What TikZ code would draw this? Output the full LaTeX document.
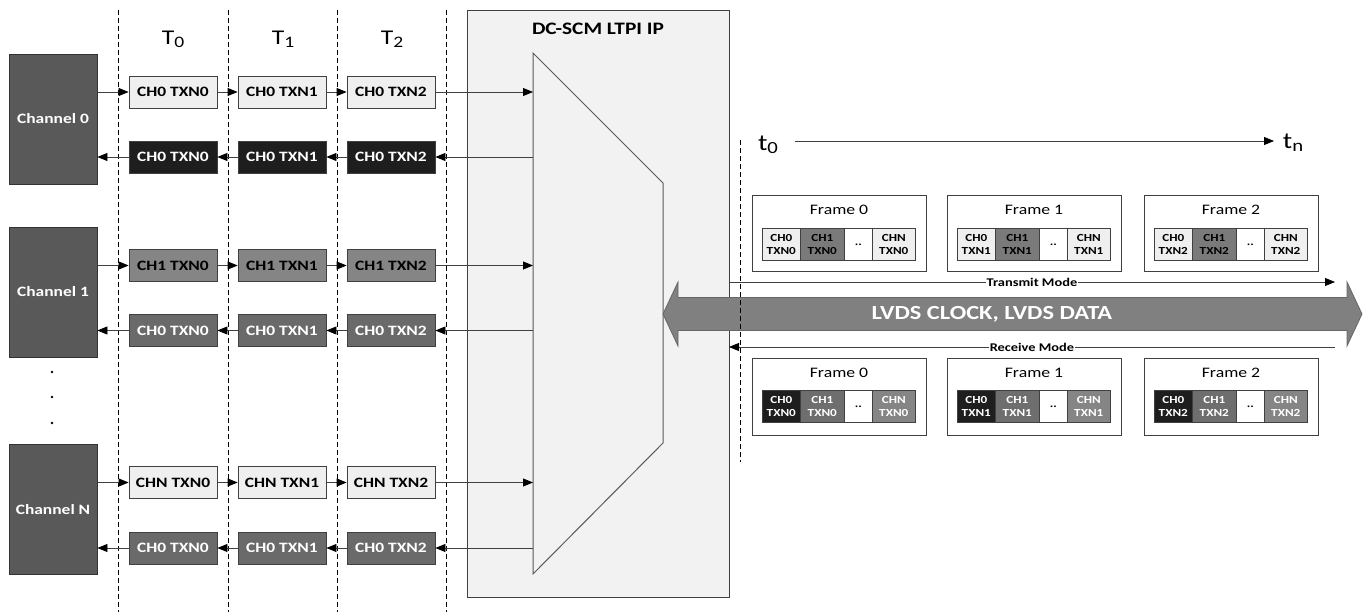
\documentclass[tikz,border=0pt]{standalone}
\usepackage{fontspec}
\setmainfont{Carlito}[FakeStretch=1.22]
\usetikzlibrary{arrows.meta}

\definecolor{lightfill}{HTML}{EFEFEF}
\definecolor{midfill}{HTML}{858585}
\definecolor{retfill}{HTML}{6A6A6A}
\definecolor{darkfill}{HTML}{1E1E1E}
\definecolor{chanfill}{HTML}{595959}
\definecolor{ipfill}{HTML}{F2F2F2}
\definecolor{edgecol}{HTML}{404040}
\definecolor{busfill}{HTML}{808080}
\definecolor{cellmid}{HTML}{7A7A7A}
\definecolor{cellret}{HTML}{6E6E6E}
\definecolor{cellchn}{HTML}{858585}

\newcommand\fsz[1]{\fontsize{#1}{#1}\selectfont}
\newcommand\lowidx[3]{\raisebox{-#2pt}{\fontsize{#1}{#1}\selectfont #3}}

\begin{document}
\begin{tikzpicture}[x=1pt,y=-1pt,
  txbox/.style={draw=edgecol, line width=0.8pt, minimum width=88pt, minimum height=32pt,
    inner sep=0pt, font=\fsz{14.3}\bfseries},
  lightbox/.style={txbox, fill=lightfill, text=black},
  midbox/.style={txbox, fill=midfill, text=black},
  retbox/.style={txbox, fill=retfill, text=white},
  darkbox/.style={txbox, fill=darkfill, text=white},
  chanbox/.style={draw=edgecol!80!black, line width=0.8pt, fill=chanfill, text=white,
    minimum width=88pt, minimum height=130pt, inner sep=0pt, font=\fsz{14.3}\bfseries},
  ipbox/.style={draw=edgecol, line width=0.8pt, fill=ipfill, inner sep=0pt},
  timeline/.style={draw=black, line width=0.7pt, dash pattern=on 5pt off 3pt},
  arrow/.style={draw=edgecol, line width=0.8pt, -{Triangle[length=10pt,width=8pt,color=black]}},
  muxline/.style={draw=chanfill, line width=1pt, fill=ipfill},
  framebox/.style={draw=edgecol, line width=0.8pt, fill=white, anchor=north west,
    minimum width=174pt, minimum height=76pt, inner sep=0pt},
  cell/.style={draw=edgecol, line width=0.6pt, anchor=north west, minimum height=32pt,
    inner sep=0pt, align=center, font=\fontsize{10.8}{13}\selectfont\bfseries},
  modelabel/.style={fill=white, inner sep=1pt, font=\fsz{11.8}\bfseries},
  steplabel/.style={font=\fsz{21}},
]
\useasboundingbox (0,0) rectangle (1366,612);

% ---- LTPI IP block with the multiplexer ----
\node[ipbox, anchor=north west, minimum width=262pt, minimum height=587pt] (ip) at (467,10) {};
\node[font=\fsz{17.5}\bfseries] (iptitle) at (598,29) {DC-SCM LTPI IP};
\draw[muxline] (533,53) -- (663,183) -- (663,443) -- (533,574) -- cycle;

% ---- time slot separators ----
\foreach \x in {118,228,337,446}
  \draw[timeline] (\x,10) -- (\x,612);

\node[steplabel] (T0) at (173,39) {T\lowidx{16}{3}{0}};
\node[steplabel] (T1) at (283,39) {T\lowidx{16}{3}{1}};
\node[steplabel] (T2) at (392,39) {T\lowidx{16}{3}{2}};

% ---- channels ----
\node[chanbox] (ch0) at (53,119) {Channel 0};
\node[chanbox] (ch1) at (53,292) {Channel 1};
\node[chanbox] (chN) at (53,509.5) {Channel N};
\foreach \y in {372,397,423}
  \fill (52,\y) circle (1.3pt);

% ---- transactions per time slot ----
\node[lightbox] (a0) at (173,92) {CH0 TXN0};
\node[lightbox] (a1) at (282,92) {CH0 TXN1};
\node[lightbox] (a2) at (391,92) {CH0 TXN2};
\node[darkbox] (b0) at (173,157) {CH0 TXN0};
\node[darkbox] (b1) at (282,157) {CH0 TXN1};
\node[darkbox] (b2) at (391,157) {CH0 TXN2};
\node[midbox] (c0) at (173,265.5) {CH1 TXN0};
\node[midbox] (c1) at (282,265.5) {CH1 TXN1};
\node[midbox] (c2) at (391,265.5) {CH1 TXN2};
\node[retbox] (d0) at (173,330.5) {CH0 TXN0};
\node[retbox] (d1) at (282,330.5) {CH0 TXN1};
\node[retbox] (d2) at (391,330.5) {CH0 TXN2};
\node[lightbox] (e0) at (173,482.5) {CHN TXN0};
\node[lightbox] (e1) at (282,482.5) {CHN TXN1};
\node[lightbox] (e2) at (391,482.5) {CHN TXN2};
\node[retbox] (f0) at (173,548) {CH0 TXN0};
\node[retbox] (f1) at (282,548) {CH0 TXN1};
\node[retbox] (f2) at (391,548) {CH0 TXN2};

% multiplexer ports
\coordinate (ma) at (533,92);
\coordinate (mb) at (533,157);
\coordinate (mc) at (533,265.5);
\coordinate (md) at (533,330.5);
\coordinate (me) at (533,482.5);
\coordinate (mf) at (533,548);

% outgoing (channel -> IP)
\foreach \r/\c in {a/ch0,c/ch1,e/chN}{
  \draw[arrow] (\c.east |- \r0.west) -- (\r0.west);
  \draw[arrow] (\r0.east) -- (\r1.west);
  \draw[arrow] (\r1.east) -- (\r2.west);
  \draw[arrow] (\r2.east) -- (m\r);
}
% incoming (IP -> channel)
\foreach \r/\c in {b/ch0,d/ch1,f/chN}{
  \draw[arrow] (m\r) -- (\r2.east);
  \draw[arrow] (\r2.west) -- (\r1.east);
  \draw[arrow] (\r1.west) -- (\r0.east);
  \draw[arrow] (\r0.west) -- (\c.east |- \r0.west);
}

% ---- LVDS link ----
\draw[draw=busfill!80!black, line width=0.8pt, fill=busfill]
  (663,314) -- (678,282) -- (678,297.5) -- (1347,297.5) -- (1347,282) -- (1362,314)
  -- (1347,346) -- (1347,330.5) -- (678,330.5) -- (678,346) -- cycle;
\node[font=\fsz{20}\bfseries, text=white] (lvds) at (992,314) {LVDS CLOCK, LVDS DATA};

\coordinate (txs) at (729,282);
\coordinate (txe) at (1335,282);
\coordinate (rxs) at (1335,347);
\coordinate (rxe) at (729,347);
\draw[arrow] (txs) -- node[modelabel] (txlab) {Transmit Mode} (txe);
\draw[arrow] (rxs) -- node[modelabel] (rxlab) {Receive Mode} (rxe);

\draw[timeline] (740,140) -- (740,462);

% ---- time axis ----
\node[font=\fsz{23}] (t0) at (768,145) {t\lowidx{17}{3}{0}};
\node[font=\fsz{23}] (tn) at (1293,143) {t\lowidx{17}{3}{n}};
\coordinate (tas) at (795,141);
\coordinate (tae) at (1274,141);
\draw[arrow] (tas) -- (tae);

% ---- frames ----
\foreach \fx/\k in {752/0,947/1,1144/2}{
  % transmit frames
  \node[framebox] (tf\k) at (\fx,195) {};
  \node[font=\fsz{14.5}] (tft\k) at (\fx+87,210) {Frame \k};
  \node[cell, fill=lightfill, minimum width=38pt] (tc0\k) at (\fx+10,228) {CH0\\TXN\k};
  \node[cell, fill=cellmid, minimum width=44pt] (tc1\k) at (\fx+48,228) {CH1\\TXN\k};
  \node[cell, fill=white, minimum width=28pt] (tcd\k) at (\fx+92,228) {..};
  \node[cell, fill=lightfill, minimum width=43pt] (tcn\k) at (\fx+120,228) {CHN\\TXN\k};
  % receive frames
  \node[framebox, minimum height=77pt] (rf\k) at (\fx,358) {};
  \node[font=\fsz{14.5}] (rft\k) at (\fx+87,373) {Frame \k};
  \node[cell, fill=darkfill, text=white, minimum width=38pt] (rc0\k) at (\fx+10,390) {CH0\\TXN\k};
  \node[cell, fill=cellret, text=white, minimum width=44pt] (rc1\k) at (\fx+48,390) {CH1\\TXN\k};
  \node[cell, fill=white, minimum width=28pt] (rcd\k) at (\fx+92,390) {..};
  \node[cell, fill=cellchn, text=white, minimum width=43pt] (rcn\k) at (\fx+120,390) {CHN\\TXN\k};
}
\end{tikzpicture}
\end{document}
